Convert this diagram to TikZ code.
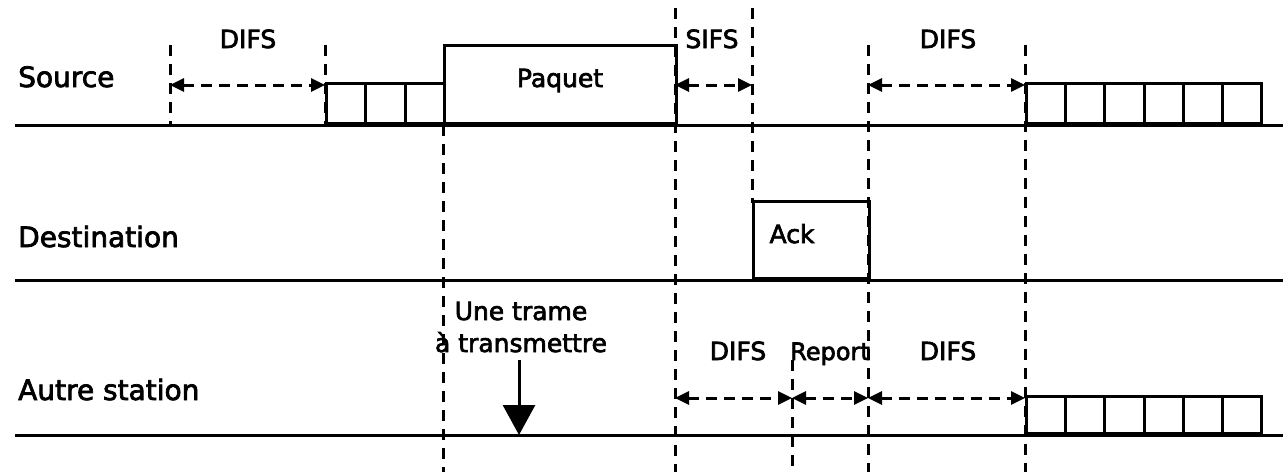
\documentclass[tikz,border=0pt]{standalone}
\usepackage{fontspec}
\setmainfont{DejaVu Sans}[RawFeature={embolden=2.6}]
\usetikzlibrary{arrows.meta,positioning,calc}
\tikzset{
  >={Triangle[length=14pt,width=13pt]},
  wire/.style={draw=black,line width=3pt},
  vmark/.style={draw=black,line width=3pt,dash pattern=on 11pt off 8pt},
  gap/.style={<->,draw=black,line width=3pt,dash pattern=on 11pt off 7pt},
  slot/.style={draw,line width=3pt,minimum width=39.2pt,inner sep=0pt,anchor=south west},
  frame/.style={draw,line width=3pt,inner sep=0pt,anchor=south west},
  lab/.style={font=\fontsize{25}{32}\selectfont,inner sep=0pt,anchor=base},
  row/.style={font=\fontsize{28}{32}\selectfont,inner sep=0pt,anchor=base west},
}
\begin{document}
\begin{tikzpicture}[x=1pt,y=-1pt]
\useasboundingbox (0,0) rectangle (1283,472);
% time lines
\coordinate (src) at (0,125); \coordinate (dst) at (0,280); \coordinate (oth) at (0,435);
\coordinate (sy) at (0,85); \coordinate (oy) at (0,398);
\foreach \n/\x/\ya/\yb in {a/170/45/125,b/325/45/125,c/443/125/472,d/675/8/472,e/752/8/203,f/868/45/472,g/1025/45/472,h/792/360/472}{
  \coordinate (\n1) at (\x,\ya);
  \coordinate (\n2) at (\x,\yb);
  \draw[vmark] (\n1) -- (\n2);
}
\draw[wire] (15,125) -- (1283,125);
\draw[wire] (15,280) -- (1283,280);
\draw[wire] (15,435) -- (1283,435);
\node[row] (ls) at (18,87) {Source};
\node[row] (ld) at (18,247) {Destination};
\node[row] (lo) at (18,400) {Autre station};
% source
\foreach \i in {0,1,2}
  \node[slot,minimum height=40pt] (sb\i) at ($(b2)+(\i*39.3,0)$) {};
\node[frame,minimum width=232pt,minimum height=78pt] (paq) at (c2 |- src) {};
\node[lab] at (560,87) {Paquet};
\foreach \i in {0,...,5}
  \node[slot,minimum height=40pt] (sc\i) at ($(g1 |- src)+(\i*39.2,0)$) {};
\draw[gap] (a1 |- sy) -- (b1 |- sy);
\draw[gap] (d1 |- sy) -- (e1 |- sy);
\draw[gap] (f1 |- sy) -- (g1 |- sy);
\node[lab] (t1) at (248,48) {DIFS};
\node[lab] (t2) at (712,48) {SIFS};
\node[lab] (t3) at (948,48) {DIFS};
% destination
\node[frame,minimum width=116pt,minimum height=77pt] (ack) at (e2 |- dst) {};
\node[lab] at (792,243) {Ack};
% autre station
\node[lab,align=center,anchor=base] (req) at (521,352) {Une trame\\à transmettre};
\coordinate (rq) at (519,360);
\draw[-{Triangle[length=30pt,width=32pt]},wire] (rq) -- (rq |- oth);
\draw[gap] (d1 |- oy) -- (h1 |- oy);
\draw[gap] (h1 |- oy) -- (f1 |- oy);
\draw[gap] (f1 |- oy) -- (g1 |- oy);
\node[lab] (t4) at (738,360) {DIFS};
\node[lab,font=\fontsize{24}{32}\selectfont] (t5) at (830,360) {Report};
\node[lab] (t6) at (948,360) {DIFS};
\foreach \i in {0,...,5}
  \node[slot,minimum height=37pt] (oc\i) at ($(g1 |- oth)+(\i*39.2,0)$) {};
\end{tikzpicture}
\end{document}
